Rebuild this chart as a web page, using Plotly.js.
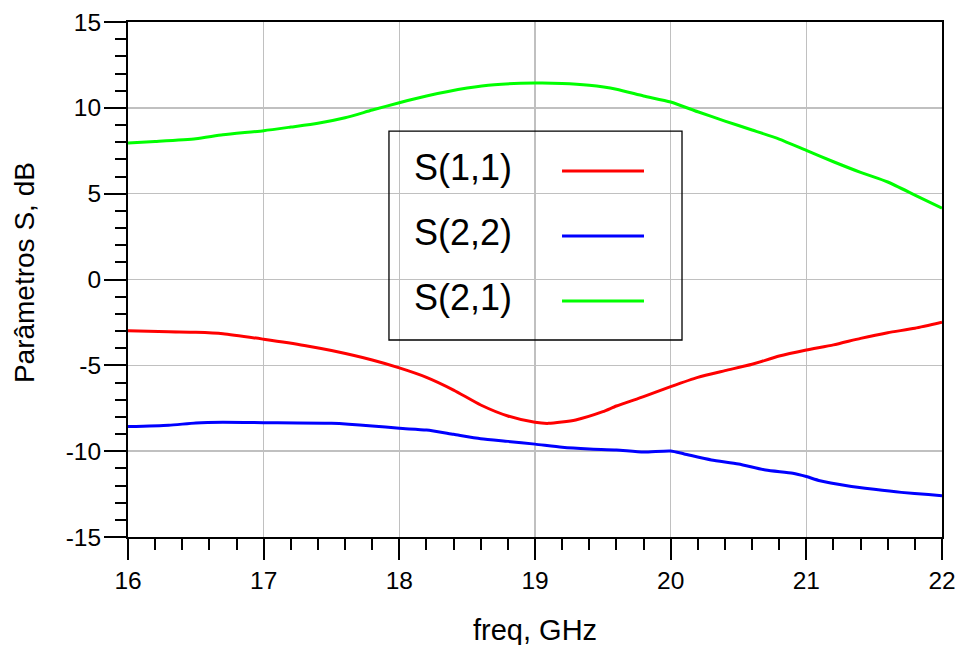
<!DOCTYPE html>
<html>
<head>
<meta charset="utf-8">
<script src="https://cdn.plot.ly/plotly-3.0.1.min.js"></script>
<style>
  html, body { margin: 0; padding: 0; background: #fff; }
  #chart { width: 957px; height: 645px; }
</style>
</head>
<body>
<div id="chart"></div>
<script>
// S-parameter sweep, 16–22 GHz
const s11Freq = [16.0, 16.3, 16.5, 16.7, 17.0, 17.3, 17.5, 17.8, 18.0, 18.2, 18.4, 18.6, 18.8, 19.0, 19.1,
                 19.3, 19.5, 19.6, 19.8, 20.0, 20.2, 20.4, 20.6, 20.8, 21.0, 21.2, 21.4, 21.6, 21.8, 22.0];
const s11 = [-2.98, -3.05, -3.08, -3.16, -3.48, -3.84, -4.14, -4.69, -5.15, -5.70, -6.44, -7.31, -7.95, -8.32, -8.38,
             -8.18, -7.70, -7.37, -6.82, -6.24, -5.70, -5.31, -4.94, -4.46, -4.11, -3.81, -3.43, -3.10, -2.84, -2.49];

const s22Freq = [16.0, 16.3, 16.5, 16.7, 17.0, 17.5, 17.8, 18.0, 18.2, 18.4, 18.6, 18.8, 19.0, 19.2, 19.4,
                 19.6, 19.8, 20.0, 20.1, 20.3, 20.5, 20.7, 20.9, 21.0, 21.1, 21.3, 21.5, 21.7, 21.9, 22.0];
const s22 = [-8.57, -8.49, -8.36, -8.32, -8.34, -8.38, -8.53, -8.67, -8.77, -9.02, -9.27, -9.43, -9.59, -9.77, -9.87,
             -9.93, -10.05, -9.99, -10.16, -10.51, -10.75, -11.10, -11.29, -11.48, -11.72, -12.01, -12.22, -12.40, -12.53, -12.59];

const s21Freq = [16.0, 16.2, 16.5, 16.7, 17.0, 17.2, 17.4, 17.6, 17.8, 18.0, 18.2, 18.5, 18.7, 19.0, 19.2,
                 19.4, 19.6, 19.8, 20.0, 20.2, 20.4, 20.6, 20.8, 21.0, 21.2, 21.4, 21.6, 21.8, 22.0];
const s21 = [7.95, 8.04, 8.20, 8.43, 8.67, 8.88, 9.10, 9.42, 9.87, 10.30, 10.69, 11.15, 11.35, 11.44, 11.42,
             11.31, 11.08, 10.69, 10.34, 9.77, 9.23, 8.71, 8.18, 7.52, 6.86, 6.24, 5.68, 4.92, 4.15];

const seriesNames = ['S(1,1)', 'S(2,2)', 'S(2,1)'];
const seriesColors = ['#ff0000', '#0000ff', '#00ff00'];

const xTickVals = [16, 17, 18, 19, 20, 21, 22];
const xTickText = ['16', '17', '18', '19', '20', '21', '22'];
const yTickVals = [-15, -10, -5, 0, 5, 10, 15];
const yTickText = ['-15', '-10', '-5', '0', '5', '10', '15'];

const FONT = 'Liberation Sans, Arial, Helvetica, sans-serif';

const curves = [
  [s11Freq, s11],
  [s22Freq, s22],
  [s21Freq, s21]
];

const traces = curves.map(([fx, fy], i) => ({
  type: 'scatter',
  mode: 'lines',
  x: fx,
  y: fy,
  name: seriesNames[i],
  line: { color: seriesColors[i], width: 3, shape: 'spline', smoothing: 0.6 },
  hoverinfo: 'x+y+name'
}));

// legend drawn as a boxed table: label on the left, line sample on the right
const legendBox = { x0: 0.3206, x1: 0.6806, y0: 0.3825, y1: 0.7883 };
const rowY = [0.7107, 0.5845, 0.4583];
const shapes = [{
  type: 'rect', xref: 'paper', yref: 'paper',
  x0: legendBox.x0, x1: legendBox.x1, y0: legendBox.y0, y1: legendBox.y1,
  line: { color: '#000', width: 1.3 }, fillcolor: 'rgba(0,0,0,0)', layer: 'above'
}];
const annotations = [];
seriesNames.forEach((nm, i) => {
  shapes.push({
    type: 'line', xref: 'paper', yref: 'paper',
    x0: 0.5332, x1: 0.6339, y0: rowY[i], y1: rowY[i],
    line: { color: seriesColors[i], width: 3 }, layer: 'above'
  });
  annotations.push({
    xref: 'paper', yref: 'paper', x: 0.3489, y: rowY[i] + 0.006,
    xanchor: 'left', yanchor: 'middle', showarrow: false,
    text: nm, font: { family: FONT, size: 36, color: '#000' }
  });
});

annotations.push({
  xref: 'paper', yref: 'paper', x: 0.5, y: -0.181,
  xanchor: 'center', yanchor: 'middle', showarrow: false,
  text: 'freq, GHz', font: { family: FONT, size: 29, color: '#000' }
});
annotations.push({
  xref: 'paper', yref: 'paper', x: -0.128, y: 0.514,
  xanchor: 'center', yanchor: 'middle', showarrow: false, textangle: -90,
  text: 'Parâmetros S, dB', font: { family: FONT, size: 28, color: '#000' }
});

const layout = {
  width: 957,
  height: 645,
  margin: { l: 128, r: 15, t: 22, b: 108, pad: 0 },
  paper_bgcolor: '#fff',
  plot_bgcolor: '#fff',
  showlegend: false,
  font: { family: FONT, color: '#000' },
  xaxis: {
    range: [16, 22],
    tickmode: 'array', tickvals: xTickVals, ticktext: xTickText,
    ticks: 'outside', ticklen: 21, tickwidth: 2, tickcolor: '#000',
    tickfont: { family: FONT, size: 24.5, color: '#000' },
    showgrid: true, gridcolor: '#c0c0c0', gridwidth: 1.5,
    showline: true, linecolor: '#000', linewidth: 2, mirror: true,
    zeroline: false,
    minor: { dtick: 0.2, tick0: 16, ticks: 'outside', ticklen: 11, tickwidth: 2, tickcolor: '#000', showgrid: false }
  },
  yaxis: {
    range: [-15, 15],
    tickmode: 'array', tickvals: yTickVals, ticktext: yTickText,
    ticks: 'outside', ticklen: 22, tickwidth: 2, tickcolor: '#000',
    ticklabelstandoff: -2,
    tickfont: { family: FONT, size: 24.5, color: '#000' },
    showgrid: true, gridcolor: '#c0c0c0', gridwidth: 1.5,
    showline: true, linecolor: '#000', linewidth: 2, mirror: true,
    zeroline: false,
    minor: { dtick: 1, tick0: 0, ticks: 'outside', ticklen: 11, tickwidth: 2, tickcolor: '#000', showgrid: false }
  },
  shapes: shapes,
  annotations: annotations
};

Plotly.newPlot('chart', traces, layout, { displayModeBar: false, staticPlot: true });
</script>
</body>
</html>
